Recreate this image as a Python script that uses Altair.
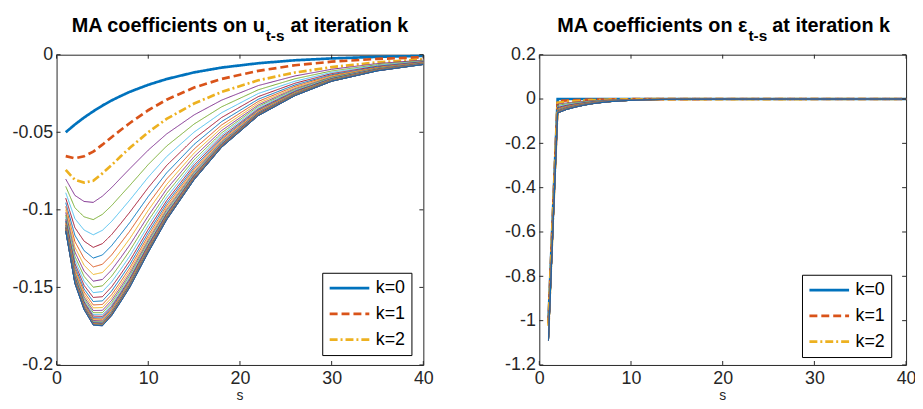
import altair as alt
import pandas as pd

FONT = "Liberation Sans"

# ---------------- data ----------------
K_LABELS = ["k=%d" % i for i in range(36)]
LEGEND_ENTRIES = ["k=0", "k=1", "k=2"]
MATLAB_COLORS = ["#0072BD", "#D95319", "#EDB120", "#7E2F8E", "#77AC30", "#4DBEEE", "#A2142F"]

X_TICKS = [0, 10, 20, 30, 40]
U_YTICKS = [0, -0.05, -0.1, -0.15, -0.2]
E_YTICKS = [0.2, 0, -0.2, -0.4, -0.6, -0.8, -1, -1.2]

U_TITLE = ["MA coefficients on u", "t-s", "at iteration k"]
E_TITLE = ["MA coefficients on \u03b5", "t-s", "at iteration k"]
X_TITLE = ["s"]

# left panel: coefficients on u_{t-s}, one row per iteration k, values at S_U
S_U = [1, 2, 3, 4, 5, 6, 7, 8, 10, 12, 15, 18, 22, 26, 30, 35, 40]
U_ROWS = [
    [-0.0500, -0.0450, -0.0405, -0.0365, -0.0328, -0.0295, -0.0266, -0.0239, -0.0194, -0.0157, -0.0114, -0.0083, -0.0055, -0.0036, -0.0024, -0.0014, -0.0008],
    [-0.0654, -0.0668, -0.0655, -0.0625, -0.0580, -0.0532, -0.0485, -0.0440, -0.0358, -0.0290, -0.0212, -0.0156, -0.0104, -0.0068, -0.0045, -0.0027, -0.0016],
    [-0.0743, -0.0807, -0.0824, -0.0813, -0.0765, -0.0712, -0.0655, -0.0600, -0.0500, -0.0414, -0.0315, -0.0240, -0.0165, -0.0115, -0.0080, -0.0049, -0.0030],
    [-0.0802, -0.0907, -0.0946, -0.0952, -0.0912, -0.0857, -0.0795, -0.0734, -0.0615, -0.0511, -0.0388, -0.0293, -0.0199, -0.0137, -0.0094, -0.0057, -0.0035],
    [-0.0849, -0.0987, -0.1045, -0.1063, -0.1029, -0.0973, -0.0907, -0.0842, -0.0708, -0.0589, -0.0447, -0.0336, -0.0226, -0.0155, -0.0105, -0.0064, -0.0039],
    [-0.0890, -0.1057, -0.1130, -0.1161, -0.1132, -0.1075, -0.1006, -0.0936, -0.0789, -0.0657, -0.0499, -0.0374, -0.0250, -0.0171, -0.0114, -0.0069, -0.0042],
    [-0.0925, -0.1115, -0.1202, -0.1242, -0.1218, -0.1160, -0.1088, -0.1014, -0.0857, -0.0714, -0.0542, -0.0405, -0.0270, -0.0184, -0.0122, -0.0074, -0.0045],
    [-0.0954, -0.1164, -0.1263, -0.1311, -0.1291, -0.1231, -0.1157, -0.1081, -0.0914, -0.0762, -0.0578, -0.0431, -0.0287, -0.0195, -0.0129, -0.0078, -0.0048],
    [-0.0978, -0.1205, -0.1313, -0.1368, -0.1351, -0.1291, -0.1214, -0.1136, -0.0962, -0.0802, -0.0608, -0.0453, -0.0301, -0.0204, -0.0134, -0.0082, -0.0050],
    [-0.0999, -0.1241, -0.1357, -0.1417, -0.1404, -0.1343, -0.1265, -0.1184, -0.1003, -0.0837, -0.0634, -0.0472, -0.0313, -0.0212, -0.0139, -0.0084, -0.0051],
    [-0.1017, -0.1272, -0.1395, -0.1460, -0.1449, -0.1388, -0.1308, -0.1225, -0.1039, -0.0867, -0.0657, -0.0489, -0.0324, -0.0219, -0.0144, -0.0087, -0.0053],
    [-0.1034, -0.1300, -0.1429, -0.1499, -0.1490, -0.1428, -0.1347, -0.1262, -0.1071, -0.0894, -0.0677, -0.0504, -0.0333, -0.0225, -0.0147, -0.0089, -0.0054],
    [-0.1049, -0.1325, -0.1460, -0.1534, -0.1527, -0.1465, -0.1383, -0.1297, -0.1101, -0.0919, -0.0696, -0.0517, -0.0342, -0.0230, -0.0151, -0.0091, -0.0055],
    [-0.1062, -0.1347, -0.1487, -0.1565, -0.1560, -0.1497, -0.1414, -0.1327, -0.1126, -0.0941, -0.0712, -0.0529, -0.0350, -0.0235, -0.0154, -0.0093, -0.0056],
    [-0.1073, -0.1366, -0.1510, -0.1591, -0.1587, -0.1524, -0.1439, -0.1351, -0.1147, -0.0958, -0.0726, -0.0539, -0.0356, -0.0239, -0.0156, -0.0095, -0.0057],
    [-0.1082, -0.1382, -0.1529, -0.1613, -0.1610, -0.1547, -0.1462, -0.1373, -0.1166, -0.0974, -0.0738, -0.0547, -0.0361, -0.0243, -0.0159, -0.0096, -0.0058],
    [-0.1090, -0.1395, -0.1546, -0.1632, -0.1630, -0.1567, -0.1481, -0.1391, -0.1182, -0.0987, -0.0748, -0.0555, -0.0366, -0.0246, -0.0160, -0.0097, -0.0059],
    [-0.1097, -0.1407, -0.1561, -0.1649, -0.1648, -0.1584, -0.1498, -0.1407, -0.1196, -0.0999, -0.0757, -0.0561, -0.0370, -0.0249, -0.0162, -0.0098, -0.0059],
    [-0.1103, -0.1417, -0.1573, -0.1663, -0.1663, -0.1599, -0.1512, -0.1421, -0.1207, -0.1009, -0.0764, -0.0567, -0.0374, -0.0251, -0.0163, -0.0099, -0.0060],
    [-0.1108, -0.1426, -0.1584, -0.1675, -0.1676, -0.1612, -0.1524, -0.1433, -0.1218, -0.1018, -0.0770, -0.0571, -0.0377, -0.0253, -0.0165, -0.0100, -0.0060],
    [-0.1113, -0.1434, -0.1593, -0.1685, -0.1687, -0.1623, -0.1535, -0.1443, -0.1226, -0.1025, -0.0776, -0.0575, -0.0379, -0.0255, -0.0166, -0.0100, -0.0061],
    [-0.1117, -0.1440, -0.1601, -0.1695, -0.1697, -0.1632, -0.1544, -0.1452, -0.1234, -0.1031, -0.0781, -0.0579, -0.0381, -0.0256, -0.0167, -0.0101, -0.0061],
    [-0.1120, -0.1446, -0.1608, -0.1702, -0.1705, -0.1640, -0.1552, -0.1459, -0.1240, -0.1037, -0.0785, -0.0582, -0.0383, -0.0257, -0.0167, -0.0101, -0.0061],
    [-0.1123, -0.1450, -0.1614, -0.1709, -0.1711, -0.1647, -0.1558, -0.1465, -0.1246, -0.1041, -0.0788, -0.0584, -0.0385, -0.0258, -0.0168, -0.0102, -0.0062],
    [-0.1125, -0.1454, -0.1619, -0.1714, -0.1717, -0.1653, -0.1564, -0.1471, -0.1250, -0.1045, -0.0791, -0.0586, -0.0386, -0.0259, -0.0169, -0.0102, -0.0062],
    [-0.1127, -0.1458, -0.1624, -0.1720, -0.1723, -0.1659, -0.1570, -0.1476, -0.1255, -0.1049, -0.0794, -0.0588, -0.0388, -0.0260, -0.0169, -0.0102, -0.0062],
    [-0.1129, -0.1461, -0.1627, -0.1724, -0.1727, -0.1663, -0.1574, -0.1480, -0.1258, -0.1052, -0.0796, -0.0590, -0.0389, -0.0261, -0.0169, -0.0102, -0.0062],
    [-0.1130, -0.1464, -0.1630, -0.1728, -0.1731, -0.1667, -0.1577, -0.1483, -0.1261, -0.1054, -0.0798, -0.0591, -0.0389, -0.0261, -0.0170, -0.0103, -0.0062],
    [-0.1132, -0.1466, -0.1633, -0.1730, -0.1734, -0.1669, -0.1580, -0.1486, -0.1264, -0.1056, -0.0800, -0.0592, -0.0390, -0.0262, -0.0170, -0.0103, -0.0062],
    [-0.1133, -0.1468, -0.1635, -0.1733, -0.1737, -0.1672, -0.1583, -0.1489, -0.1266, -0.1058, -0.0801, -0.0594, -0.0391, -0.0262, -0.0170, -0.0103, -0.0062],
    [-0.1134, -0.1470, -0.1638, -0.1736, -0.1740, -0.1675, -0.1586, -0.1491, -0.1268, -0.1060, -0.0803, -0.0595, -0.0392, -0.0263, -0.0171, -0.0103, -0.0062],
    [-0.1135, -0.1471, -0.1639, -0.1738, -0.1742, -0.1677, -0.1588, -0.1493, -0.1270, -0.1061, -0.0804, -0.0595, -0.0392, -0.0263, -0.0171, -0.0103, -0.0063],
    [-0.1136, -0.1473, -0.1641, -0.1740, -0.1744, -0.1679, -0.1590, -0.1495, -0.1271, -0.1063, -0.0805, -0.0596, -0.0392, -0.0263, -0.0171, -0.0103, -0.0063],
    [-0.1136, -0.1474, -0.1642, -0.1741, -0.1746, -0.1681, -0.1591, -0.1496, -0.1273, -0.1064, -0.0805, -0.0597, -0.0393, -0.0264, -0.0171, -0.0104, -0.0063],
    [-0.1137, -0.1475, -0.1643, -0.1743, -0.1747, -0.1682, -0.1592, -0.1498, -0.1274, -0.1065, -0.0806, -0.0597, -0.0393, -0.0264, -0.0171, -0.0104, -0.0063],
    [-0.1137, -0.1475, -0.1644, -0.1743, -0.1748, -0.1683, -0.1593, -0.1499, -0.1275, -0.1065, -0.0807, -0.0597, -0.0393, -0.0264, -0.0171, -0.0104, -0.0063],
]

# right panel: coefficients on eps_{t-s}, one row per iteration k, values at S_E
S_E = [1, 2, 3, 4, 5, 6, 7, 8, 10, 12, 15, 20, 40]
E_ROWS = [
    [-1.0000, 0, 0, 0, 0, 0, 0, 0, 0, 0, 0, 0, 0],
    [-1.0126, -0.0088, -0.0066, -0.0050, -0.0038, -0.0028, -0.0021, -0.0015, -0.0008, -0.0004, -0.0002, 0, 0],
    [-1.0234, -0.0164, -0.0122, -0.0094, -0.0070, -0.0052, -0.0039, -0.0029, -0.0016, -0.0008, -0.0003, -0.0001, 0],
    [-1.0333, -0.0233, -0.0174, -0.0133, -0.0100, -0.0074, -0.0056, -0.0041, -0.0022, -0.0011, -0.0004, -0.0001, 0],
    [-1.0414, -0.0290, -0.0216, -0.0166, -0.0124, -0.0092, -0.0069, -0.0051, -0.0028, -0.0014, -0.0006, -0.0001, 0],
    [-1.0482, -0.0337, -0.0251, -0.0193, -0.0144, -0.0107, -0.0080, -0.0059, -0.0032, -0.0016, -0.0006, -0.0002, 0],
    [-1.0540, -0.0378, -0.0282, -0.0216, -0.0162, -0.0120, -0.0090, -0.0066, -0.0036, -0.0018, -0.0007, -0.0002, 0],
    [-1.0590, -0.0413, -0.0308, -0.0236, -0.0177, -0.0131, -0.0098, -0.0072, -0.0039, -0.0020, -0.0008, -0.0002, 0],
    [-1.0630, -0.0441, -0.0329, -0.0252, -0.0189, -0.0140, -0.0105, -0.0077, -0.0042, -0.0021, -0.0008, -0.0002, 0],
    [-1.0666, -0.0466, -0.0348, -0.0266, -0.0200, -0.0148, -0.0111, -0.0081, -0.0044, -0.0022, -0.0009, -0.0002, 0],
    [-1.0698, -0.0488, -0.0364, -0.0279, -0.0209, -0.0155, -0.0116, -0.0085, -0.0047, -0.0023, -0.0009, -0.0002, 0],
    [-1.0725, -0.0507, -0.0378, -0.0290, -0.0217, -0.0161, -0.0121, -0.0089, -0.0048, -0.0024, -0.0010, -0.0002, 0],
    [-1.0747, -0.0523, -0.0390, -0.0299, -0.0224, -0.0166, -0.0125, -0.0091, -0.0050, -0.0025, -0.0010, -0.0002, 0],
    [-1.0769, -0.0538, -0.0401, -0.0307, -0.0231, -0.0171, -0.0128, -0.0094, -0.0051, -0.0026, -0.0010, -0.0003, 0],
    [-1.0787, -0.0551, -0.0411, -0.0315, -0.0236, -0.0175, -0.0131, -0.0096, -0.0052, -0.0026, -0.0010, -0.0003, 0],
    [-1.0803, -0.0562, -0.0419, -0.0321, -0.0241, -0.0178, -0.0134, -0.0098, -0.0054, -0.0027, -0.0011, -0.0003, 0],
    [-1.0816, -0.0571, -0.0426, -0.0327, -0.0245, -0.0181, -0.0136, -0.0100, -0.0054, -0.0027, -0.0011, -0.0003, 0],
    [-1.0828, -0.0580, -0.0432, -0.0331, -0.0248, -0.0184, -0.0138, -0.0101, -0.0055, -0.0028, -0.0011, -0.0003, 0],
    [-1.0838, -0.0587, -0.0438, -0.0335, -0.0251, -0.0186, -0.0140, -0.0102, -0.0056, -0.0028, -0.0011, -0.0003, 0],
    [-1.0847, -0.0593, -0.0442, -0.0339, -0.0254, -0.0188, -0.0141, -0.0104, -0.0056, -0.0028, -0.0011, -0.0003, 0],
    [-1.0854, -0.0598, -0.0446, -0.0342, -0.0256, -0.0190, -0.0142, -0.0104, -0.0057, -0.0028, -0.0011, -0.0003, 0],
    [-1.0860, -0.0602, -0.0449, -0.0344, -0.0258, -0.0191, -0.0143, -0.0105, -0.0057, -0.0029, -0.0011, -0.0003, 0],
    [-1.0866, -0.0606, -0.0452, -0.0346, -0.0260, -0.0192, -0.0144, -0.0106, -0.0058, -0.0029, -0.0012, -0.0003, 0],
    [-1.0871, -0.0610, -0.0455, -0.0348, -0.0261, -0.0194, -0.0145, -0.0106, -0.0058, -0.0029, -0.0012, -0.0003, 0],
    [-1.0875, -0.0612, -0.0457, -0.0350, -0.0262, -0.0194, -0.0146, -0.0107, -0.0058, -0.0029, -0.0012, -0.0003, 0],
    [-1.0878, -0.0615, -0.0459, -0.0351, -0.0264, -0.0195, -0.0146, -0.0107, -0.0059, -0.0029, -0.0012, -0.0003, 0],
    [-1.0881, -0.0617, -0.0460, -0.0352, -0.0264, -0.0196, -0.0147, -0.0108, -0.0059, -0.0029, -0.0012, -0.0003, 0],
    [-1.0884, -0.0619, -0.0462, -0.0354, -0.0265, -0.0196, -0.0147, -0.0108, -0.0059, -0.0029, -0.0012, -0.0003, 0],
    [-1.0887, -0.0621, -0.0463, -0.0355, -0.0266, -0.0197, -0.0148, -0.0108, -0.0059, -0.0030, -0.0012, -0.0003, 0],
    [-1.0888, -0.0622, -0.0464, -0.0355, -0.0266, -0.0197, -0.0148, -0.0109, -0.0059, -0.0030, -0.0012, -0.0003, 0],
    [-1.0890, -0.0623, -0.0465, -0.0356, -0.0267, -0.0198, -0.0148, -0.0109, -0.0059, -0.0030, -0.0012, -0.0003, 0],
    [-1.0891, -0.0624, -0.0466, -0.0357, -0.0267, -0.0198, -0.0149, -0.0109, -0.0059, -0.0030, -0.0012, -0.0003, 0],
    [-1.0893, -0.0625, -0.0466, -0.0357, -0.0268, -0.0198, -0.0149, -0.0109, -0.0060, -0.0030, -0.0012, -0.0003, 0],
    [-1.0894, -0.0626, -0.0467, -0.0357, -0.0268, -0.0199, -0.0149, -0.0109, -0.0060, -0.0030, -0.0012, -0.0003, 0],
    [-1.0895, -0.0626, -0.0467, -0.0358, -0.0268, -0.0199, -0.0149, -0.0109, -0.0060, -0.0030, -0.0012, -0.0003, 0],
    [-1.0896, -0.0627, -0.0468, -0.0358, -0.0269, -0.0199, -0.0149, -0.0109, -0.0060, -0.0030, -0.0012, -0.0003, 0],
]

# ---------------- layout / style ----------------
W, H = 370, 313
AXIS_COLOR = "#262626"
THICK = 2.7


def long_df(svals, rows):
    recs = []
    for i, row in enumerate(rows):
        for s, v in zip(svals, row):
            recs.append({"s": s, "v": v, "k": K_LABELS[i], "i": i})
    return pd.DataFrame(recs)


color_scale = alt.Scale(domain=K_LABELS, range=[MATLAB_COLORS[i % 7] for i in range(len(K_LABELS))])
dash_scale = alt.Scale(domain=K_LABELS, range=[[1, 0], [8, 4], [8, 3, 2, 3]] + [[1, 0]] * (len(K_LABELS) - 3))


def panel(svals, rows, ydomain, yticks, title_parts, legend_xy, sub_x, rest_x):
    df = long_df(svals, rows)
    xs = alt.Scale(domain=[0, 40], nice=False, zero=False)
    ys = alt.Scale(domain=ydomain, nice=False, zero=False)
    x_axis = alt.Axis(values=X_TICKS, labelExpr="'' + datum.value", ticks=False, domain=False,
                      grid=False, labelFont=FONT, labelFontSize=18, labelColor=AXIS_COLOR,
                      labelPadding=5, labelFlush=False, labelOverlap=False, labelBound=False,
                      title=None)
    y_axis = alt.Axis(values=yticks, labelExpr="'' + datum.value", ticks=False, domain=False,
                      grid=False, labelFont=FONT, labelFontSize=18, labelColor=AXIS_COLOR,
                      labelPadding=4, labelFlush=False, labelOverlap=False, labelBound=False,
                      minExtent=45, maxExtent=45, title=None)
    legend = alt.Legend(orient="none", legendX=legend_xy[0], legendY=legend_xy[1],
                        values=LEGEND_ENTRIES, title=None, strokeColor="#000000",
                        fillColor="#ffffff", padding=6, labelFont=FONT, labelFontSize=18,
                        labelColor="#000000", labelOffset=29, rowPadding=7,
                        symbolType="M-1,0H4", symbolSize=256, symbolStrokeWidth=THICK)
    enc = dict(
        x=alt.X("s:Q", scale=xs, axis=x_axis),
        y=alt.Y("v:Q", scale=ys, axis=y_axis),
        color=alt.Color("k:N", scale=color_scale, legend=legend),
        strokeDash=alt.StrokeDash("k:N", scale=dash_scale, legend=legend),
    )
    base = alt.Chart(df)
    thick = base.transform_filter("datum.i < 3").mark_line(strokeWidth=THICK).encode(**enc)
    thin = base.transform_filter("datum.i >= 3").mark_line(strokeWidth=1).encode(**enc)

    xt = alt.Chart(pd.DataFrame({"s": X_TICKS}))
    yt = alt.Chart(pd.DataFrame({"v": yticks}))
    rx = alt.X("s:Q", scale=xs, axis=x_axis)
    ry = alt.Y("v:Q", scale=ys, axis=y_axis)
    top_t = xt.mark_rule(color=AXIS_COLOR).encode(x=rx, y=alt.value(0), y2=alt.value(4))
    bot_t = xt.mark_rule(color=AXIS_COLOR).encode(x=rx, y=alt.value(H - 4), y2=alt.value(H))
    left_t = yt.mark_rule(color=AXIS_COLOR).encode(y=ry, x=alt.value(0), x2=alt.value(4))
    right_t = yt.mark_rule(color=AXIS_COLOR).encode(y=ry, x=alt.value(W - 4), x2=alt.value(W))

    def txt(s, align, x, y, size, weight, color):
        return alt.Chart(pd.DataFrame({"t": [s]})).mark_text(
            align=align, baseline="alphabetic", font=FONT, fontSize=size,
            fontWeight=weight, color=color).encode(
            x=alt.value(x), y=alt.value(y), text="t:N")

    t1 = txt(title_parts[0], "right", sub_x, -22.7, 20, "bold", "#000000")
    t2 = txt(title_parts[1], "left", sub_x + 1, -13.7, 15.5, "bold", "#000000")
    t3 = txt(title_parts[2], "left", rest_x, -22.7, 20, "bold", "#000000")
    xt_title = txt(X_TITLE[0], "center", W / 2, H + 35.5, 14, "normal", AXIS_COLOR)

    return alt.layer(thick, thin, top_t, bot_t, left_t, right_t, t1, t2, t3, xt_title).properties(
        width=W, height=H)


left = panel(S_U, U_ROWS, [-0.2, 0], U_YTICKS, U_TITLE, (268, 220), 210, 236)
right = panel(S_E, E_ROWS, [-1.2, 0.2], E_YTICKS, E_TITLE, (265, 222), 210, 235)

chart = alt.hconcat(left, right, spacing=60).resolve_scale(
    color="independent", strokeDash="independent"
).resolve_legend(
    color="independent", strokeDash="independent"
).configure_view(
    stroke=AXIS_COLOR, strokeWidth=1
).properties(
    autosize=alt.AutoSizeParams(type="none"),
    padding={"left": 49, "top": 44, "right": 866, "bottom": 349},
    background="white",
)

chart.save("out.html", embed_options={"renderer": "svg", "actions": False})
